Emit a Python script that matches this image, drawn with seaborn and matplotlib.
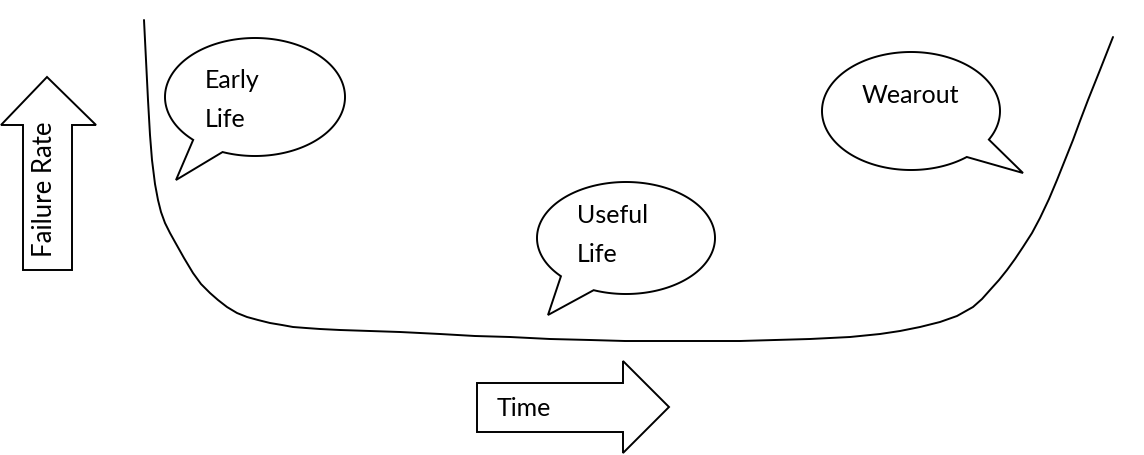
import numpy as np
import pandas as pd
import seaborn as sns
import matplotlib
matplotlib.use("Agg")
import matplotlib.pyplot as plt
from matplotlib.patches import Polygon

# Bathtub curve (pixel-like units, y grows downward)
curve_x = [144, 146, 148, 150, 152, 155, 158, 161, 165, 170, 175, 184, 193, 201, 210, 218, 227, 237, 247, 258, 270, 282, 293, 306, 320, 340, 370, 400, 440, 475, 510, 550, 590, 625, 660, 700, 740, 775, 810, 850, 880, 900, 920, 940, 957, 973, 982, 990, 999, 1007, 1015, 1023, 1032, 1040, 1049, 1057, 1065, 1073, 1080, 1088, 1100, 1113]
curve_y = [20, 60, 100, 135, 160, 184, 200, 212, 223, 233, 242, 258, 273, 284, 293, 300, 307, 313, 317, 320, 323, 325, 327, 328, 329, 330, 331, 332, 334, 336, 337, 339, 340, 341, 341, 341, 341, 340, 339, 337, 334, 331, 327, 322, 316, 307, 299, 290, 280, 270, 259, 247, 233, 218, 199, 180, 160, 140, 121, 100, 70, 37]

labels = ["Early\nLife", "Useful\nLife", "Wearout"]
axis_labels = ["Failure Rate", "Time"]

sns.set_theme(style="white")
plt.rcParams['font.family'] = ['Lato', 'DejaVu Sans']

W, H = 1144, 455
fig = plt.figure(figsize=(W / 100, H / 100), dpi=100)
ax = fig.add_axes([0, 0, 1, 1])

df = pd.DataFrame({"x": curve_x, "y": curve_y})
sns.lineplot(data=df, x="x", y="y", sort=False, estimator=None, color="black", lw=1.4, ax=ax)
ax.set_xlim(0, W)
ax.set_ylim(H, 0)
ax.axis("off")


def bubble(cx, cy, rx, ry, a, tip, b):
    ta = np.arctan2((a[1] - cy) / ry, (a[0] - cx) / rx)
    tb = np.arctan2((b[1] - cy) / ry, (b[0] - cx) / rx)
    # arc from b to a, taking the long way round (excluding the tail gap)
    d = (ta - tb) % (2 * np.pi)
    if d < np.pi:
        d = d - 2 * np.pi
    th = tb + np.linspace(0, d, 400)
    pts = [(cx + rx * np.cos(t), cy + ry * np.sin(t)) for t in th]
    pts.append(tip)
    ax.add_patch(Polygon(pts, closed=True, facecolor="white", edgecolor="black", lw=1.4, zorder=3))


bubble(255, 97, 90, 59, (193, 140), (176, 180), (222, 153))
bubble(626, 238, 89, 56, (563, 275), (548, 315), (595, 288))
bubble(911, 111, 89, 59, (990, 140), (1023, 173), (968, 158))

fs = 18
tc = "black"
ax.text(205, 88, "Early", fontsize=fs, color=tc, ha="left", va="baseline", zorder=4)
ax.text(205, 127, "Life", fontsize=fs, color=tc, ha="left", va="baseline", zorder=4)
ax.text(577, 223, "Useful", fontsize=fs, color=tc, ha="left", va="baseline", zorder=4)
ax.text(577, 262, "Life", fontsize=fs, color=tc, ha="left", va="baseline", zorder=4)
ax.text(862, 103, labels[2], fontsize=fs, color=tc, ha="left", va="baseline", zorder=4)

# Up arrow (Failure Rate)
up = [(47, 77), (96, 125), (72, 125), (72, 270), (23, 270), (23, 125), (1, 125)]
ax.add_patch(Polygon(up, closed=True, facecolor="white", edgecolor="black", lw=1.4, zorder=3))
ax.text(45, 189, axis_labels[0], fontsize=18.5, color=tc, rotation=90, ha="center", va="center", zorder=4)

# Right arrow (Time)
right = [(477, 383), (623, 383), (623, 361), (669, 407), (623, 453), (623, 432), (477, 432)]
ax.add_patch(Polygon(right, closed=True, facecolor="white", edgecolor="black", lw=1.4, zorder=3))
ax.text(497, 416, axis_labels[1], fontsize=fs, color=tc, ha="left", va="baseline", zorder=4)

fig.savefig("out.png", dpi=100, facecolor="white")
